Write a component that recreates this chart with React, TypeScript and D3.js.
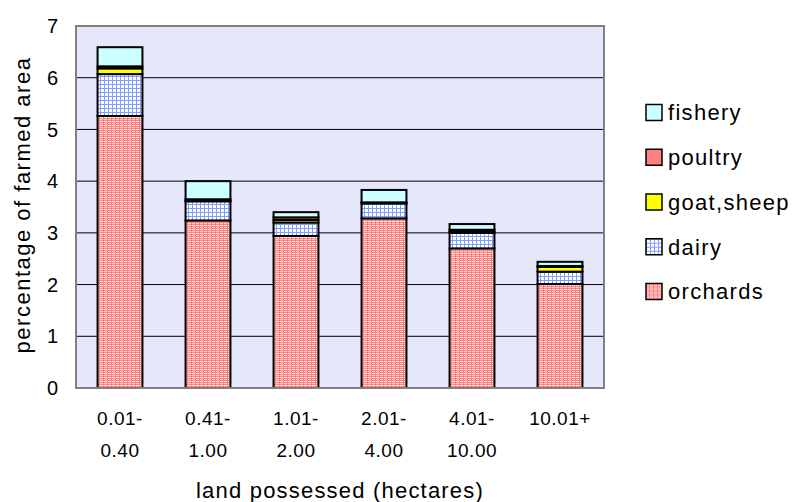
import React from "react";
import * as d3 from "d3";

const categories = ["0.01-\n0.40", "0.41-\n1.00", "1.01-\n2.00", "2.01-\n4.00", "4.01-\n10.00", "10.01+"];
const seriesNames = ["orchards", "dairy", "goat,sheep", "poultry", "fishery"];
const orchards = [5.26, 3.24, 2.94, 3.28, 2.7, 2.01];
const dairy = [0.81, 0.37, 0.26, 0.29, 0.3, 0.24];
const goatSheep = [0.11, 0.01, 0.05, 0.01, 0.02, 0.09];
const poultry = [0.04, 0.03, 0.05, 0.01, 0.04, 0.02];
const fishery = [0.37, 0.35, 0.1, 0.24, 0.11, 0.08];
const yTicks = [0, 1, 2, 3, 4, 5, 6, 7];

const W = 792, H = 502;
const M = { left: 76, top: 26, right: 604, bottom: 388 };
const FONT = "'Liberation Sans', Arial, sans-serif";

const fills: Record<string, string> = {
  orchards: "url(#pOrch)",
  dairy: "url(#pDairy)",
  "goat,sheep": "#ffff00",
  poultry: "#ff8080",
  fishery: "#ccffff",
};

export default function App() {
  const rows = categories.map((c, i) => ({
    cat: c,
    orchards: orchards[i],
    dairy: dairy[i],
    "goat,sheep": goatSheep[i],
    poultry: poultry[i],
    fishery: fishery[i],
  }));
  const stack = d3.stack<any>().keys(seriesNames)(rows);
  const x = d3.scaleBand().domain(categories).range([M.left, M.right]).paddingInner(0.49).paddingOuter(0.245);
  const y = d3.scaleLinear().domain([0, 7]).range([M.bottom, M.top]);
  const legendOrder = ["fishery", "poultry", "goat,sheep", "dairy", "orchards"];

  return (
    <svg width={W} height={H} style={{ position: "absolute", left: 0, top: 0 }} fontFamily={FONT}>
      <defs>
        <pattern id="pOrch" width="4" height="4" patternUnits="userSpaceOnUse">
          <rect width="4" height="4" fill="#ff8080" />
          <rect x="0" y="1" width="1" height="1" fill="#ffffff" />
          <rect x="2" y="1" width="1" height="1" fill="#ffffff" />
          <rect x="0" y="3" width="3" height="1" fill="#ffd0d0" />
          <rect x="1" y="1" width="1" height="1" fill="#ffe0e0" />
        </pattern>
        <pattern id="pDairy" width="4" height="4" patternUnits="userSpaceOnUse">
          <rect width="4" height="4" fill="#ffffff" />
          <rect x="0" y="0" width="4" height="1" fill="#7f9cff" />
          <rect x="0" y="0" width="1" height="4" fill="#7f9cff" />
        </pattern>
        <pattern id="pBg" width="2" height="2" patternUnits="userSpaceOnUse">
          <rect width="2" height="2" fill="#e4e4fa" />
          <rect width="1" height="1" fill="#ececff" />
        </pattern>
      </defs>
      <rect x={0} y={0} width={W} height={H} fill="#ffffff" />
      <rect x={M.left} y={M.top} width={M.right - M.left} height={M.bottom - M.top} fill="url(#pBg)" />
      {yTicks.filter(t => t > 0 && t < 7).map(t => (
        <line key={t} x1={M.left} x2={M.right} y1={y(t)} y2={y(t)} stroke="#000" strokeWidth={1} />
      ))}
      {stack.map(s => (
        <g key={s.key}>
          {s.map((d, i) => (
            <rect key={i} x={x(categories[i])!} width={x.bandwidth()} y={y(d[1])} height={y(d[0]) - y(d[1])}
              fill={fills[s.key]} stroke="#000" strokeWidth={2} />
          ))}
        </g>
      ))}
      <rect x={M.left} y={M.top} width={M.right - M.left} height={M.bottom - M.top} fill="none" stroke="#808080" strokeWidth={2} />
      {yTicks.map(t => (
        <text key={t} x={58} y={y(t)} dy="0.36em" textAnchor="end" fontSize={20}>{t}</text>
      ))}
      {categories.map(c => (
        <text key={c} x={x(c)! + x.bandwidth() / 2} textAnchor="middle" fontSize={19} letterSpacing={0.5}>
          {c.split("\n").map((ln, j) => (
            <tspan key={j} x={x(c)! + x.bandwidth() / 2} y={425 + j * 32}>{ln}</tspan>
          ))}
        </text>
      ))}
      <text x={(M.left + M.right) / 2} y={498} textAnchor="middle" fontSize={22} letterSpacing={1.2}>land possessed (hectares)</text>
      <text transform={`translate(30,${(M.top + M.bottom) / 2 - 2}) rotate(-90)`} textAnchor="middle" fontSize={22} letterSpacing={1.5}>percentage of farmed area</text>
      {legendOrder.map((k, i) => (
        <g key={k} transform={`translate(646,${104.5 + i * 44.75})`}>
          <rect x={0} y={0} width={16} height={16} fill={fills[k]} stroke="#000" strokeWidth={1.5} />
          <text x={22} y={8} dy="0.36em" fontSize={22} letterSpacing={1.3}>{k}</text>
        </g>
      ))}
    </svg>
  );
}
